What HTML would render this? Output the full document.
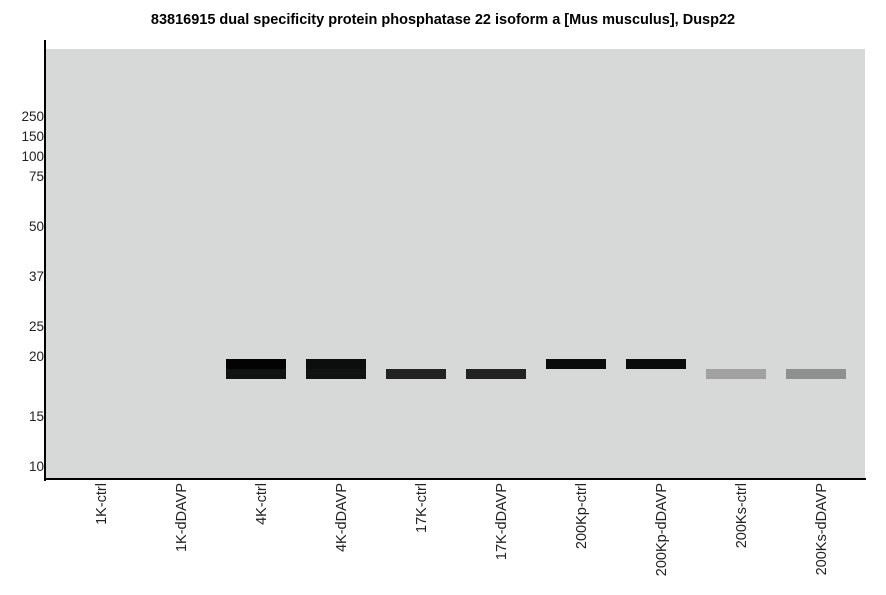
<!DOCTYPE html>
<html><head><style>body{margin:0;background:#fff}svg{display:block}text{font-family:"Liberation Sans",sans-serif}</style></head><body>
<svg width="886" height="595" xmlns="http://www.w3.org/2000/svg">
<text x="443" y="24" font-size="14.5" font-weight="bold" text-anchor="middle">83816915 dual specificity protein phosphatase 22 isoform a [Mus musculus], Dusp22</text>
<rect x="46" y="49" width="819" height="430" fill="#d7d8d8"/>
<rect x="44" y="40" width="2" height="441" fill="#000"/>
<rect x="44" y="478" width="822" height="2" fill="#000"/>
<g font-size="13.5" text-anchor="end" fill="#222">
<text x="44" y="121">250</text><text x="44" y="141">150</text><text x="44" y="161">100</text><text x="44" y="181">75</text>
<text x="44" y="231">50</text><text x="44" y="281">37</text><text x="44" y="331">25</text><text x="44" y="361">20</text>
<text x="44" y="421">15</text><text x="44" y="471">10</text>
</g>
<rect x="226" y="359" width="60" height="10" fill="#030303"/><rect x="226" y="369" width="60" height="10" fill="#111212"/>
<rect x="306" y="359" width="60" height="10" fill="#0c0d0d"/><rect x="306" y="369" width="60" height="10" fill="#111212"/>
<rect x="386" y="369" width="60" height="10" fill="#222"/>
<rect x="466" y="369" width="60" height="10" fill="#222"/>
<rect x="546" y="359" width="60" height="10" fill="#0a0b0b"/>
<rect x="626" y="359" width="60" height="10" fill="#0a0b0b"/>
<rect x="706" y="369" width="60" height="10" fill="#a1a1a1"/>
<rect x="786" y="369" width="60" height="10" fill="#8e8f8f"/>
<g font-size="14.5" text-anchor="end" fill="#222">
<text transform="translate(106,483) rotate(-90)">1K-ctrl</text>
<text transform="translate(186,483) rotate(-90)">1K-dDAVP</text>
<text transform="translate(266,483) rotate(-90)">4K-ctrl</text>
<text transform="translate(346,483) rotate(-90)">4K-dDAVP</text>
<text transform="translate(426,483) rotate(-90)">17K-ctrl</text>
<text transform="translate(506,483) rotate(-90)">17K-dDAVP</text>
<text transform="translate(586,483) rotate(-90)">200Kp-ctrl</text>
<text transform="translate(666,483) rotate(-90)">200Kp-dDAVP</text>
<text transform="translate(746,483) rotate(-90)">200Ks-ctrl</text>
<text transform="translate(826,483) rotate(-90)">200Ks-dDAVP</text>
</g>
</svg>
</body></html>
